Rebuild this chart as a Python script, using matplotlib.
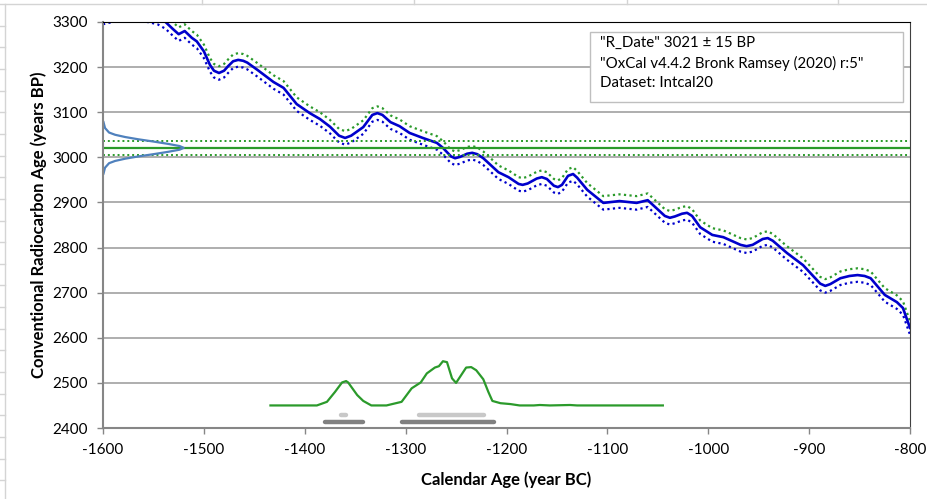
import matplotlib.pyplot as plt
from matplotlib.lines import Line2D
from matplotlib.patches import Rectangle

plt.rcParams['font.family'] = ['Lato', 'DejaVu Sans']
plt.rcParams['axes.unicode_minus'] = False

#calibration curve (calendar year, radiocarbon age)
cal_year = [-1600, -1585, -1570, -1556, -1546, -1538, -1531, -1525, -1519, -1512,
            -1507, -1500, -1494, -1490, -1485, -1480, -1476, -1471, -1466, -1461,
            -1457, -1447, -1431, -1421, -1408, -1395, -1385, -1375, -1366, -1360,
            -1354, -1342, -1333, -1328, -1323, -1315, -1306, -1296, -1283, -1269,
            -1263, -1255, -1251, -1246, -1239, -1234, -1229, -1223, -1208, -1198,
            -1188, -1184, -1179, -1170, -1165, -1160, -1153, -1149, -1145, -1139,
            -1134, -1130, -1120, -1104, -1088, -1071, -1060, -1043, -1038, -1033,
            -1026, -1021, -1016, -1008, -996, -985, -968, -962, -956, -946,
            -941, -936, -922, -906, -889, -884, -879, -869, -860, -852,
            -845, -839, -825, -813, -807, -800]
cal_bp = [3310, 3318, 3322, 3315, 3310, 3300, 3285, 3273, 3280, 3265,
          3257, 3235, 3205, 3192, 3187, 3192, 3202, 3213, 3216, 3214,
          3210, 3194, 3167, 3154, 3118, 3098, 3085, 3068, 3048, 3043,
          3048, 3067, 3094, 3098, 3094, 3078, 3069, 3054, 3043, 3032,
          3021, 3002, 2998, 3001, 3008, 3010, 3007, 2998, 2967, 2956,
          2941, 2939, 2942, 2953, 2956, 2952, 2937, 2934, 2939, 2959,
          2963, 2955, 2928, 2899, 2903, 2899, 2905, 2870, 2866, 2869,
          2875, 2877, 2870, 2845, 2828, 2823, 2806, 2803, 2806, 2819,
          2821, 2815, 2788, 2761, 2720, 2715, 2719, 2732, 2737, 2739,
          2737, 2732, 2695, 2679, 2666, 2622]
cal_sigma = 15

#measured date
r_date = 3021
r_err = 15

#normal distribution of the measurement drawn against the y axis
meas_bp = [3078, 3065, 3055, 3050, 3045, 3040, 3035, 3030, 3025, 3021,
           3017, 3012, 3007, 3002, 2997, 2992, 2987, 2977, 2964]
meas_width = [0.5, 2, 6, 12, 22, 35, 50, 64, 76, 80,
              76, 64, 50, 35, 22, 12, 6, 2, 0.5]

#calibrated probability drawn on the x axis
prob_year = [-1434, -1388, -1378, -1370, -1363, -1359, -1357, -1348, -1342, -1334,
             -1319, -1304, -1294, -1285, -1279, -1271, -1267, -1263, -1259, -1254,
             -1250, -1240, -1235, -1230, -1223, -1218, -1214, -1206, -1196, -1187,
             -1173, -1167, -1157, -1137, -1130, -1045]
prob_bp = [2450, 2450, 2458, 2480, 2501, 2504, 2501, 2473, 2460, 2450,
           2450, 2458, 2488, 2501, 2521, 2534, 2537, 2548, 2546, 2510,
           2500, 2534, 2535, 2528, 2508, 2480, 2460, 2455, 2453, 2450,
           2450, 2451, 2450, 2451, 2450, 2450]

#68.2% and 95.4% ranges
range68 = [(-1364, -1359), (-1287, -1222)]
range95 = [(-1380, -1342), (-1304, -1212)]

info = ['"R_Date" 3021 \u00b1 15 BP',
        '"OxCal v4.4.2 Bronk Ramsey (2020) r:5"',
        'Dataset: Intcal20']

W, H = 928, 499
fig = plt.figure(figsize=(W / 100, H / 100), dpi=100)

#faint spreadsheet cells behind the chart
sheet = '#d4d4d4'
fig.add_artist(Line2D([0, 1], [1 - 4 / H, 1 - 4 / H], color=sheet, lw=1))
fig.add_artist(Line2D([5 / W, 5 / W], [0, 1 - 4 / H], color=sheet, lw=1))
for cx in [202, 414, 627, 838]:
    fig.add_artist(Line2D([cx / W, cx / W], [1 - 4 / H, 1], color=sheet, lw=1))
ry = 4 + 21.65
while ry < H:
    fig.add_artist(Line2D([0, 5 / W], [1 - ry / H, 1 - ry / H], color=sheet, lw=1))
    ry += 21.65

ax = fig.add_axes([103 / W, 1 - 428 / H, 807 / W, 406 / H])

blue = '#0000cc'
green = '#2b9a2b'

upper = [b + cal_sigma for b in cal_bp]
lower = [b - cal_sigma for b in cal_bp]
dots = (0, (1, 1.5))
ax.plot(cal_year, upper, color=green, lw=1.6, linestyle=dots)
ax.plot(cal_year, lower, color=blue, lw=1.6, linestyle=dots)
ax.plot(cal_year, cal_bp, color=blue, lw=1.9)

#measurement lines
ax.axhline(r_date, color=green, lw=1.6)
ax.axhline(r_date + r_err, color=green, lw=1.4, linestyle=dots)
ax.axhline(r_date - r_err, color=green, lw=1.4, linestyle=dots)

ax.plot([-1600 + w for w in meas_width], meas_bp, color='#4f81bd', lw=1.6)

ax.plot(prob_year, prob_bp, color=green, lw=1.6)

for a, b in range68:
    ax.plot([a, b], [2429, 2429], color='#c8c8c8', lw=3.2, solid_capstyle='round')
for a, b in range95:
    ax.plot([a, b], [2413, 2413], color='#808080', lw=3.2, solid_capstyle='round')

ax.set_xlim(-1600, -800)
ax.set_ylim(2400, 3300)
ax.set_xticks(range(-1600, -799, 100))
ax.set_yticks(range(2400, 3301, 100))
ax.grid(True, axis='y', color='#999999', lw=1.1)
ax.set_axisbelow(True)

ax.tick_params(direction='out', length=4, width=1, color='#868686', labelsize=11, pad=7)
ax.spines['left'].set_color('#868686')
ax.spines['bottom'].set_color('#868686')
ax.spines['left'].set_linewidth(1.5)
ax.spines['bottom'].set_linewidth(1.5)
ax.spines['top'].set_color('black')
ax.spines['right'].set_color('#404040')

ax.set_xlabel('Calendar Age (year BC)', fontsize=12, fontweight='bold', labelpad=10)
ax.set_ylabel('Conventional Radiocarbon Age (years BP)', fontsize=12, fontweight='bold', labelpad=4)

#info box
ax.add_patch(Rectangle((0.6035, 0.803), 0.3875, 0.172, transform=ax.transAxes,
                       facecolor='white', edgecolor='#bfbfbf', lw=1, zorder=5))
for i, line in enumerate(info):
    ax.text(0.616, 0.9483 - i * 0.0493, line, transform=ax.transAxes, fontsize=10.8,
            va='center', ha='left', zorder=6)

fig.savefig('out.png', dpi=100)
